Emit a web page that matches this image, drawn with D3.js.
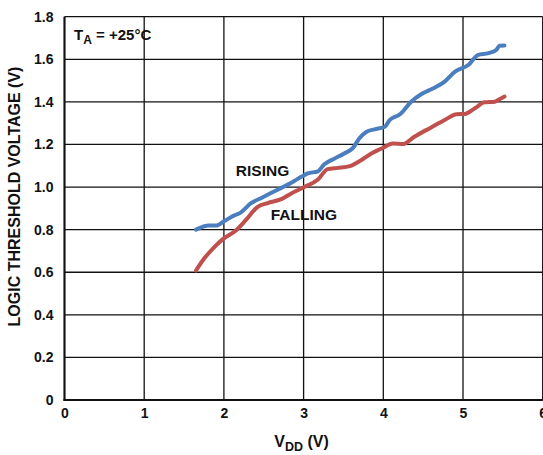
<!DOCTYPE html>
<html>
<head>
<meta charset="utf-8">
<script src="https://cdn.jsdelivr.net/npm/d3@7/dist/d3.min.js"></script>
<style>
body{margin:0;background:#fff;}
svg text{font-family:"Liberation Sans",Arial,sans-serif;font-weight:bold;fill:#111;}
</style>
</head>
<body>
<div id="chart"></div>
<script>
// values
var vddRising=[1.65,1.81,1.90,2.00,2.13,2.21,2.34,2.47,2.59,2.72,2.84,2.97,3.05,3.18,3.26,3.39,3.51,3.62,3.70,3.79,3.89,4.02,4.08,4.21,4.35,4.48,4.63,4.77,4.90,5.07,5.19,5.32,5.42,5.46,5.52];
var rising=[0.800,0.820,0.819,0.839,0.867,0.880,0.924,0.949,0.972,0.996,1.019,1.048,1.064,1.074,1.107,1.134,1.158,1.184,1.229,1.260,1.271,1.283,1.315,1.342,1.401,1.437,1.464,1.495,1.542,1.574,1.621,1.629,1.645,1.664,1.665];
var vddFalling=[1.65,1.75,1.88,1.98,2.15,2.28,2.42,2.55,2.72,2.84,3.01,3.18,3.30,3.43,3.58,3.72,3.85,3.98,4.12,4.25,4.39,4.60,4.77,4.92,5.02,5.15,5.27,5.40,5.44,5.52];
var falling=[0.608,0.663,0.718,0.753,0.796,0.847,0.906,0.925,0.943,0.969,1.000,1.035,1.084,1.090,1.098,1.126,1.158,1.181,1.205,1.202,1.236,1.280,1.315,1.342,1.343,1.370,1.398,1.401,1.409,1.425];
var xTicks=[0,1,2,3,4,5,6];
var yTicks=[0,0.2,0.4,0.6,0.8,1.0,1.2,1.4,1.6,1.8];

var W=543,H=455;
var svg=d3.select("#chart").append("svg").attr("width",W).attr("height",H);

var x=d3.scaleLinear().domain([0,6]).range([64.5,542.7]);
var y=d3.scaleLinear().domain([0,1.8]).range([400,16.7]);

// grid
svg.append("g").selectAll("line.v").data(xTicks).enter().append("line")
	.attr("x1",function(d){return x(d)}).attr("x2",function(d){return x(d)})
	.attr("y1",y(0)).attr("y2",y(1.8))
	.attr("stroke","#111").attr("stroke-width",1.3);
svg.append("g").selectAll("line.h").data(yTicks).enter().append("line")
	.attr("x1",x(0)).attr("x2",x(6))
	.attr("y1",function(d){return y(d)}).attr("y2",function(d){return y(d)})
	.attr("stroke","#111").attr("stroke-width",1.3);

// frame, left and bottom heavier
svg.append("line").attr("x1",x(0)).attr("x2",x(0)).attr("y1",y(0)+1).attr("y2",y(1.8)).attr("stroke","#111").attr("stroke-width",2);
svg.append("line").attr("x1",x(0)-1).attr("x2",x(6)).attr("y1",y(0)).attr("y2",y(0)).attr("stroke","#111").attr("stroke-width",2);

// tick labels
var yAxis=d3.axisLeft(y).tickValues(yTicks).tickSize(0).tickPadding(11)
	.tickFormat(function(d){return d===0?"0":d3.format(".1f")(d)});
var gy=svg.append("g").attr("transform","translate("+x(0)+",0)").call(yAxis);
gy.select(".domain").remove();
gy.selectAll("text").style("font-size","14px").attr("fill","#111");

var xAxis=d3.axisBottom(x).tickValues(xTicks).tickSize(0).tickPadding(8).tickFormat(d3.format("d"));
var gx=svg.append("g").attr("transform","translate(0,"+y(0)+")").call(xAxis);
gx.select(".domain").remove();
gx.selectAll("text").style("font-size","14px").attr("fill","#111");

// curves
var line=d3.line().curve(d3.curveMonotoneX);
function pts(xs,ys){return xs.map(function(v,i){return [x(v),y(ys[i])]})}
svg.append("path").attr("d",line(pts(vddFalling,falling)))
	.attr("fill","none").attr("stroke","#c0504d").attr("stroke-width",4).attr("stroke-linecap","round");
svg.append("path").attr("d",line(pts(vddRising,rising)))
	.attr("fill","none").attr("stroke","#4a7ebf").attr("stroke-width",4).attr("stroke-linecap","round");

// labels
svg.append("text").attr("x",x(2.15)).attr("y",y(1.052)).style("font-size","15.5px").text("RISING");
svg.append("text").attr("x",x(2.587)).attr("y",y(0.845)).style("font-size","15.5px").text("FALLING");

var ta=svg.append("text").attr("x",74).attr("y",40).style("font-size","15px");
ta.append("tspan").text("T");
ta.append("tspan").attr("dy",4).style("font-size","12px").text("A");
ta.append("tspan").attr("dy",-4).text(" = +25°C");

var xt=svg.append("text").attr("x",301.5).attr("y",447).attr("text-anchor","middle").style("font-size","16px");
xt.append("tspan").text("V");
xt.append("tspan").attr("dy",4).style("font-size","12.5px").text("DD");
xt.append("tspan").attr("dy",-4).text(" (V)");

svg.append("text").attr("transform","translate(19.5,196.5) rotate(-90)")
	.attr("text-anchor","middle").style("font-size","16px").text("LOGIC THRESHOLD VOLTAGE (V)");
</script>
</body>
</html>
